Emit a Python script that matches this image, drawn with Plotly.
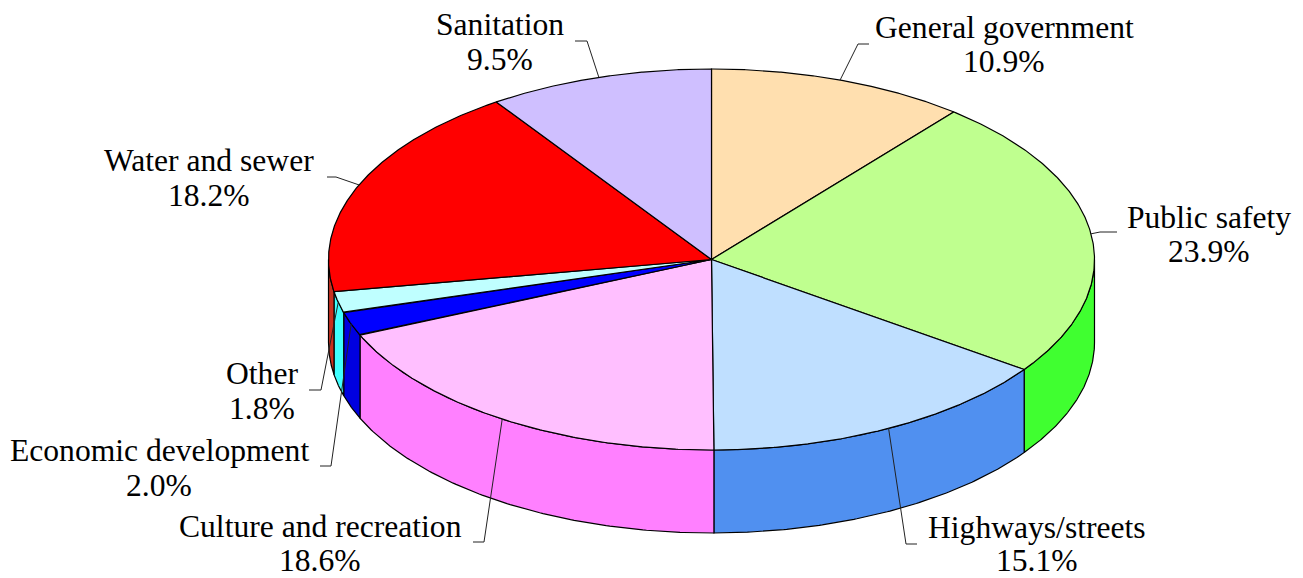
import numpy as np
import plotly.graph_objects as go

categories = ["General government", "Public safety", "Highways/streets", "Culture and recreation",
              "Economic development", "Other", "Water and sewer", "Sanitation"]
values = [10.9, 23.9, 15.1, 18.6, 2.0, 1.8, 18.2, 9.5]
top_colors = ["#FFDFAF", "#BFFF8F", "#BFDFFF", "#FFBFFF", "#0000FF", "#BFFFFF", "#FF0000", "#CFBFFF"]
side_colors = ["#BFA070", "#40FF30", "#5090F0", "#FF80FF", "#0000E0", "#40FFFF", "#C83020", "#9080C0"]

# geometry of the pie (pixel-like axis units)
CX, CY, RX, RY, DEPTH = 711.5, 259.5, 383, 190.5, 83
# leader elbows: (elbow, end) per category
leader_elbows = [[(858, 44), (869, 44)], [(1100, 232), (1117, 232)], [(906, 544), (917, 544)], [(484, 542), (473, 542)],
                 [(331, 466), (320, 466)], [(321, 390), (309, 390)], [(336, 177), (327, 177)], [(587, 41), (575, 41)]]
# label centres: x, y line 1, y line 2
label_pos = [(1004, 27, 61), (1209, 217, 251), (1037, 527, 560), (320, 526, 560),
             (159, 450, 485), (262, 373, 408), (209, 160, 195), (500, 24, 59)]


def ex(t):
    return CX + RX * np.sin(t)


def ey(t):
    return CY - RY * np.cos(t)


edges = np.radians(np.concatenate([[0], np.cumsum(values)]) * 3.6)
fig = go.Figure()

# side walls (front half of the rim only)
for i, name in enumerate(categories):
    a, b = max(edges[i], np.pi / 2), min(edges[i + 1], 3 * np.pi / 2)
    if a >= b:
        continue
    t = np.linspace(a, b, 120)
    x = np.concatenate([ex(t), ex(t[::-1])])
    y = np.concatenate([ey(t), ey(t[::-1]) + DEPTH])
    fig.add_trace(go.Scatter(x=np.append(x, x[0]), y=np.append(y, y[0]), mode="lines", fill="toself",
                             fillcolor=side_colors[i], line=dict(color="black", width=1.2),
                             hoverinfo="skip", name=name + " side"))

# top slices
for i, name in enumerate(categories):
    t = np.linspace(edges[i], edges[i + 1], 200)
    x = np.concatenate([[CX], ex(t), [CX]])
    y = np.concatenate([[CY], ey(t), [CY]])
    fig.add_trace(go.Scatter(x=x, y=y, mode="lines", fill="toself", fillcolor=top_colors[i],
                             line=dict(color="black", width=1.2), hoverinfo="text",
                             text=f"{name}: {values[i]:.1f}%", name=name))

# leader lines, starting at each slice's mid-angle on the rim
for i, name in enumerate(categories):
    mid = (edges[i] + edges[i + 1]) / 2
    xs = [ex(mid)] + [p[0] for p in leader_elbows[i]]
    ys = [ey(mid)] + [p[1] for p in leader_elbows[i]]
    fig.add_trace(go.Scatter(x=xs, y=ys, mode="lines", line=dict(color="#222222", width=1),
                             hoverinfo="skip", name=name + " leader"))

annotations = []
for i, name in enumerate(categories):
    xc, y1, y2 = label_pos[i]
    for text, yy in ((name, y1), (f"{values[i]:.1f}%", y2)):
        annotations.append(dict(x=xc, y=yy, xref="x", yref="y", text=text, showarrow=False,
                                xanchor="center", yanchor="middle",
                                font=dict(family="Liberation Serif", size=31.6, color="black")))

fig.update_layout(
    width=1303, height=578, margin=dict(l=0, r=0, t=0, b=0),
    paper_bgcolor="white", plot_bgcolor="white", showlegend=False,
    xaxis=dict(range=[0, 1303], visible=False, fixedrange=True),
    yaxis=dict(range=[578, 0], visible=False, fixedrange=True),
    annotations=annotations,
)
fig.write_html("out.html", config={"displayModeBar": False},
               post_script="document.body.style.margin='0';document.body.style.overflow='hidden';")
